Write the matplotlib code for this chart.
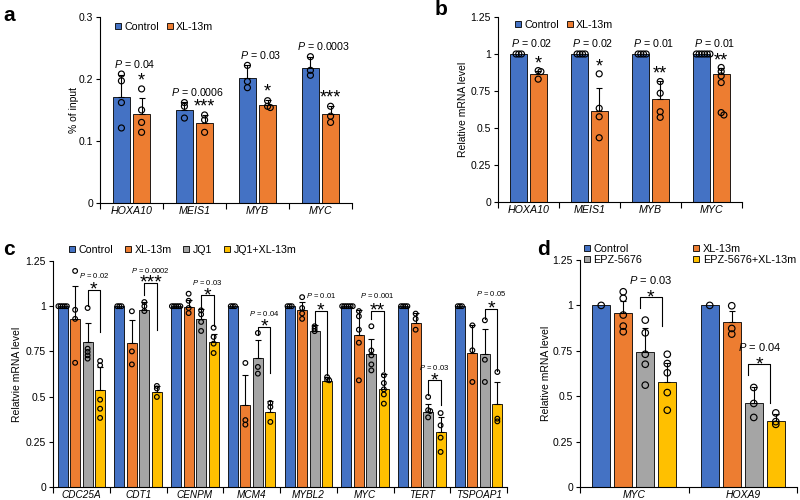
import numpy as np
import matplotlib
matplotlib.use("Agg")
import matplotlib.pyplot as plt
from matplotlib.lines import Line2D

plt.rcParams["font.family"] = ["Liberation Sans", "DejaVu Sans"]
plt.rcParams["mathtext.fontset"] = "custom"
plt.rcParams["mathtext.it"] = "Liberation Sans:italic"
plt.rcParams["mathtext.rm"] = "Liberation Sans"

BLUE, ORANGE, GRAY, YELLOW = "#4472C4", "#ED7D31", "#A5A5A5", "#FFC000"

# ---------------- panel a : ChIP, % of input ----------------
a_genes = ["HOXA10", "MEIS1", "MYB", "MYC"]
a_ctrl_mean = [0.171, 0.150, 0.201, 0.218]
a_ctrl_err = [0.035, 0.013, 0.021, 0.018]
a_ctrl_pts = [[0.208, 0.197, 0.162, 0.121], [0.162, 0.156, 0.137],
              [0.222, 0.196, 0.186], [0.236, 0.214, 0.206]]
a_xl_mean = [0.144, 0.129, 0.158, 0.143]
a_xl_err = [0.026, 0.013, 0.008, 0.013]
a_xl_pts = [[0.184, 0.150, 0.130, 0.114], [0.142, 0.134, 0.114],
            [0.165, 0.156, 0.154], [0.156, 0.140, 0.130]]
a_p = ["0.04", "0.0006", "0.03", "0.0003"]
a_stars = ["*", "***", "*", "***"]

# ---------------- panel b : relative mRNA ----------------
b_genes = ["HOXA10", "MEIS1", "MYB", "MYC"]
b_ctrl_mean = [1, 1, 1, 1]
b_ctrl_err = [0, 0, 0, 0]
b_ctrl_pts = [[1] * 3, [1] * 4, [1] * 4, [1] * 6]
b_xl_mean = [0.866, 0.615, 0.694, 0.866]
b_xl_err = [0.022, 0.158, 0.124, 0.038]
b_xl_pts = [[0.888, 0.881, 0.830], [0.866, 0.633, 0.576, 0.434],
            [0.814, 0.735, 0.610, 0.572], [0.909, 0.882, 0.852, 0.807, 0.604, 0.588]]
b_p = ["0.02", "0.02", "0.01", "0.01"]
b_stars = ["*", "*", "**", "**"]

# ---------------- panel c : JQ1 combination ----------------
c_genes = ["CDC25A", "CDT1", "CENPM", "MCM4", "MYBL2", "MYC", "TERT", "TSPOAP1"]
c_ctrl_mean = [1] * 8
c_ctrl_err = [0] * 8
c_ctrl_pts = [[1] * 5, [1] * 3, [1] * 5, [1] * 3, [1] * 3, [1] * 6, [1] * 4, [1] * 3]
c_xl_mean = [0.931, 0.796, 0.996, 0.452, 0.981, 0.839, 0.907, 0.743]
c_xl_err = [0.179, 0.126, 0.040, 0.166, 0.042, 0.138, 0.055, 0.151]
c_xl_pts = [[1.195, 0.980, 0.930, 0.687], [0.972, 0.750, 0.678],
            [1.069, 1.030, 0.990, 0.962], [0.686, 0.370, 0.345],
            [1.050, 0.990, 0.960, 0.930], [0.973, 0.944, 0.870, 0.798, 0.590],
            [0.959, 0.930, 0.870], [0.894, 0.756, 0.581]]
c_jq_mean = [0.802, 0.981, 0.931, 0.715, 0.861, 0.737, 0.415, 0.737]
c_jq_err = [0.105, 0.042, 0.055, 0.096, 0.033, 0.083, 0.046, 0.139]
c_jq_pts = [[0.990, 0.765, 0.747, 0.728, 0.710], [1.023, 1.000, 0.973],
            [0.977, 0.955, 0.913, 0.863], [0.852, 0.664, 0.627],
            [0.889, 0.875, 0.862], [0.889, 0.755, 0.728, 0.678, 0.645],
            [0.498, 0.425, 0.420, 0.385], [0.922, 0.704, 0.581]]
c_combo_mean = [0.535, 0.525, 0.802, 0.415, 0.586, 0.540, 0.304, 0.461]
c_combo_err = [0.129, 0.034, 0.046, 0.059, 0.024, 0.087, 0.083, 0.120]
c_combo_pts = [[0.697, 0.673, 0.483, 0.433, 0.382], [0.559, 0.545, 0.498],
               [0.881, 0.830, 0.793, 0.741], [0.465, 0.443, 0.360],
               [0.608, 0.594, 0.590], [0.618, 0.575, 0.540, 0.512, 0.461],
               [0.409, 0.341, 0.273, 0.194], [0.636, 0.378, 0.363]]
c_p = ["0.02", "0.0002", "0.03", "0.04", "0.01", "0.001", "0.03", "0.05"]
c_stars = ["*", "***", "*", "*", "*", "**", "*", "*"]
c_p_y = [1.17, 1.20, 1.13, 0.96, 1.06, 1.06, 0.66, 1.07]
c_br_top = [1.09, 1.13, 1.06, 0.885, 0.973, 0.973, 0.59, 0.986]
c_br_left = [1.00, 1.06, 0.99, 0.84, 0.894, 0.93, 0.507, 0.93]
c_br_right = [0.86, 0.87, 0.89, 0.63, 0.618, 0.642, 0.452, 0.642]

# ---------------- panel d : EPZ-5676 combination ----------------
d_genes = ["MYC", "HOXA9"]
d_ctrl_mean = [1, 1]
d_ctrl_err = [0, 0]
d_ctrl_pts = [[1], [1]]
d_xl_mean = [0.959, 0.910]
d_xl_err = [0.066, 0.060]
d_xl_pts = [[1.075, 1.039, 0.947, 0.886, 0.855], [0.998, 0.873, 0.842]]
d_epz_mean = [0.744, 0.465]
d_epz_err = [0.129, 0.083]
d_epz_pts = [[0.919, 0.849, 0.731, 0.676, 0.561], [0.548, 0.460, 0.383]]
d_combo_mean = [0.579, 0.364]
d_combo_err = [0.105, 0.036]
d_combo_pts = [[0.731, 0.680, 0.629, 0.520, 0.423], [0.408, 0.360, 0.345]]
d_p = ["0.03", "0.04"]
d_stars = ["*", "*"]
d_p_y = [1.14, 0.77]
d_br_top = [1.044, 0.676]
d_br_left = [0.985, 0.615]
d_br_right = [0.886, 0.46]

fig = plt.figure(figsize=(8, 5), dpi=100)


def px_axes(x0, y0, x1, y1):
    return fig.add_axes([x0 / 800, 1 - y1 / 500, (x1 - x0) / 800, (y1 - y0) / 500])


def spread(xc, vals, d, sx, sy):
    # small horizontal shifts so overlapping circles stay visible
    placed, xs = [], []
    for v in vals:
        for k in [0, 1, -1, 2, -2, 3, -3, 4, -4]:
            dx = k * 0.45 * d
            if all((dx - px) ** 2 + ((v - pv) * sy) ** 2 >= (0.4 * d) ** 2 for px, pv in placed):
                break
        placed.append((dx, v))
        xs.append(xc + dx / sx)
    return xs


def style(ax, genes, ymax, yticks, ylabels, ylabel, fs, labelpad=4):
    n = len(genes)
    ax.set_xlim(0, n)
    ax.set_ylim(0, ymax)
    for s in ["top", "right"]:
        ax.spines[s].set_visible(False)
    for s in ["left", "bottom"]:
        ax.spines[s].set_linewidth(0.8)
    ax.set_yticks(yticks, ylabels)
    ax.set_xticks(np.arange(n + 1))
    ax.set_xticklabels([])
    ax.set_xticks(np.arange(n) + 0.5, genes, minor=True)
    ax.tick_params(axis="x", which="major", length=4, width=0.8)
    ax.tick_params(axis="x", which="minor", length=0, pad=2, labelsize=fs)
    for lab in ax.get_xticklabels(minor=True):
        lab.set_style("italic")
    ax.tick_params(axis="y", length=3, width=0.8, pad=2, labelsize=7.5)
    ax.set_ylabel(ylabel, fontsize=7.5, labelpad=labelpad)


def draw(ax, series, colors, offsets, width, ymax, dot, capsize):
    n = len(series[0][0])
    pos = ax.get_position()
    sx = pos.width * 800 / n
    sy = pos.height * 500 / ymax
    for (means, errs, pts), color, off in zip(series, colors, offsets):
        x = np.arange(n) + 0.5 + off
        ax.bar(x, means, width, color=color, edgecolor="black", linewidth=0.6, zorder=2)
        e = np.array(errs, dtype=float)
        m = e > 0
        if m.any():
            ax.errorbar(x[m], np.array(means)[m], yerr=[np.zeros(m.sum()), e[m]], fmt="none",
                        ecolor="black", elinewidth=0.8, capsize=capsize, capthick=0.8, zorder=3)
        for xi, vals in zip(x, pts):
            xs = spread(xi, vals, dot, sx, sy)
            ax.scatter(xs, vals, s=(dot * 0.72) ** 2, facecolors="none", edgecolors="black",
                       linewidths=0.85, zorder=4)


def legend(ax, labels, colors, fs, **kw):
    handles = [Line2D([], [], marker="s", linestyle="none", markersize=4.5, markerfacecolor=c,
                      markeredgecolor="black", markeredgewidth=0.6) for c in colors]
    ax.legend(handles, labels, frameon=False, handlelength=0.8, handletextpad=0.2, borderpad=0,
              borderaxespad=0, fontsize=fs, **kw)


def bracket(ax, x1, x2, top, left, right, star, fs):
    ax.plot([x1, x1, x2, x2], [left, top, top, right], color="black", lw=0.8, zorder=5)
    ax.annotate(star, ((x1 + x2) / 2, top), xytext=(0, -3.5), textcoords="offset points",
                ha="center", va="baseline", fontsize=fs)


# ---- a ----
ax = px_axes(100, 17, 352, 203)
style(ax, a_genes, 0.3, [0, 0.1, 0.2, 0.3], ["0", "0.1", "0.2", "0.3"], "% of input", 7.7, labelpad=0)
draw(ax, [(a_ctrl_mean, a_ctrl_err, a_ctrl_pts), (a_xl_mean, a_xl_err, a_xl_pts)],
     [BLUE, ORANGE], [-0.16, 0.16], 0.27, 0.3, 6, 2.5)
for i in range(4):
    ax.text(i + 0.55, max(a_ctrl_pts[i]) + 0.017, f"$P$ = {a_p[i]}", ha="center", va="center", fontsize=7.7)
    top = max(max(a_xl_pts[i]), a_xl_mean[i] + a_xl_err[i])
    ax.annotate(a_stars[i], (i + 0.66, top), xytext=(0, 2.5), textcoords="offset points",
                ha="center", va="baseline", fontsize=13)
legend(ax, ["Control", "XL-13m"], [BLUE, ORANGE], 7.7, ncol=2, loc="center left",
       bbox_to_anchor=(0.054, 0.946), columnspacing=0.6)

# ---- b ----
ax = px_axes(498, 17, 742, 202)
style(ax, b_genes, 1.25, [0, 0.25, 0.5, 0.75, 1, 1.25], ["0", "0.25", "0.5", "0.75", "1", "1.25"],
      "Relative mRNA level", 7.7, labelpad=2)
draw(ax, [(b_ctrl_mean, b_ctrl_err, b_ctrl_pts), (b_xl_mean, b_xl_err, b_xl_pts)],
     [BLUE, ORANGE], [-0.159, 0.159], 0.274, 1.25, 6, 2.5)
for i in range(4):
    ax.text(i + 0.55, 1.074, f"$P$ = {b_p[i]}", ha="center", va="center", fontsize=7.7)
    top = max(max(b_xl_pts[i]), b_xl_mean[i] + b_xl_err[i])
    ax.annotate(b_stars[i], (i + 0.66, top), xytext=(0, 1.5), textcoords="offset points",
                ha="center", va="baseline", fontsize=13)
legend(ax, ["Control", "XL-13m"], [BLUE, ORANGE], 7.7, ncol=2, loc="center left",
       bbox_to_anchor=(0.063, 0.957), columnspacing=0.6)

# ---- c ----
ax = px_axes(53, 261, 507, 487)
style(ax, c_genes, 1.25, [0, 0.25, 0.5, 0.75, 1, 1.25], ["0", "0.25", "0.5", "0.75", "1", "1.25"],
      "Relatvie mRNA level", 7.2, labelpad=2.5)
c_off = [-0.33, -0.11, 0.11, 0.33]
draw(ax, [(c_ctrl_mean, c_ctrl_err, c_ctrl_pts), (c_xl_mean, c_xl_err, c_xl_pts),
          (c_jq_mean, c_jq_err, c_jq_pts), (c_combo_mean, c_combo_err, c_combo_pts)],
     [BLUE, ORANGE, GRAY, YELLOW], c_off, 0.176, 1.25, 4.7, 2)
for i in range(8):
    x1, x2 = i + 0.5 + c_off[2], i + 0.5 + c_off[3]
    bracket(ax, x1, x2, c_br_top[i], c_br_left[i], c_br_right[i], c_stars[i], 14)
    ax.text((x1 + x2) / 2, c_p_y[i], f"$P$ = {c_p[i]}", ha="center", va="center", fontsize=5.5)
legend(ax, ["Control", "XL-13m", "JQ1", "JQ1+XL-13m"], [BLUE, ORANGE, GRAY, YELLOW], 7.7,
       ncol=4, loc="center left", bbox_to_anchor=(0.032, 1.049), columnspacing=1.0)

# ---- d ----
ax = px_axes(580, 260, 797, 487)
style(ax, d_genes, 1.25, [0, 0.25, 0.5, 0.75, 1, 1.25], ["0", "0.25", "0.5", "0.75", "1", "1.25"],
      "Relative mRNA level", 7.5, labelpad=1.5)
d_off = [-0.3045, -0.1015, 0.1015, 0.3045]
draw(ax, [(d_ctrl_mean, d_ctrl_err, d_ctrl_pts), (d_xl_mean, d_xl_err, d_xl_pts),
          (d_epz_mean, d_epz_err, d_epz_pts), (d_combo_mean, d_combo_err, d_combo_pts)],
     [BLUE, ORANGE, GRAY, YELLOW], d_off, 0.169, 1.25, 6.5, 2.5)
for i in range(2):
    x1, x2 = i + 0.5 + d_off[2] - 0.05, i + 0.5 + d_off[3] - 0.05
    bracket(ax, x1, x2, d_br_top[i], d_br_left[i], d_br_right[i], d_stars[i], 14)
    ax.text((x1 + x2) / 2, d_p_y[i], f"$P$ = {d_p[i]}", ha="center", va="center", fontsize=8)
legend(ax, ["Control", "EPZ-5676", "XL-13m", "EPZ-5676+XL-13m"], [BLUE, GRAY, ORANGE, YELLOW], 7.8,
       ncol=2, loc="upper left", bbox_to_anchor=(0.012, 1.07), columnspacing=4.6, labelspacing=0.1)

for lab, x, y in [("a", 3, 6), ("b", 435, 0), ("c", 3, 240), ("d", 537, 240)]:
    fig.text(x / 800, 1 - y / 500, lab, fontsize=15, fontweight="bold", va="top", ha="left")

fig.savefig("out.png", dpi=100)
